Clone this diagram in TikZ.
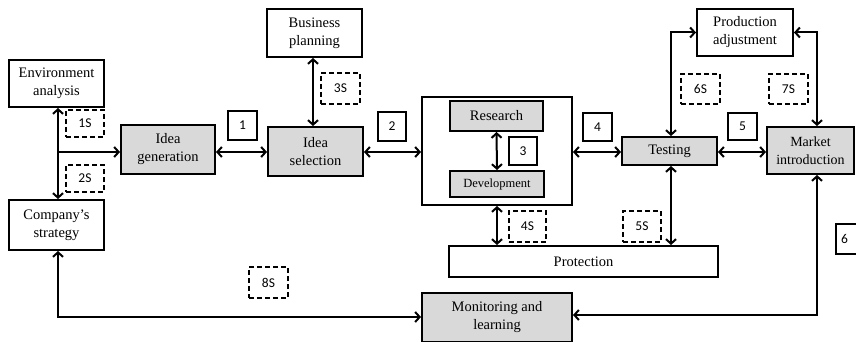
\documentclass[tikz,border=0pt]{standalone}
\usepackage{fontspec}
\setmainfont{Liberation Serif}
\newfontfamily\labfont{Carlito}
\usetikzlibrary{arrows.meta,calc}
\definecolor{boxgray}{HTML}{D9D9D9}
\tikzset{
  blk/.style={draw=black, line width=2pt, inner sep=1pt, align=center,
    font=\fontsize{14.5}{18}\selectfont},
  grayblk/.style={blk, fill=boxgray},
  numbox/.style={draw=black, line width=2pt, inner sep=0pt, font=\labfont\fontsize{13.5}{15}\selectfont},
  dashbox/.style={draw=black, line width=2.2pt, dash pattern=on 5pt off 3pt, inner sep=0pt,
    font=\labfont\fontsize{13.5}{15}\selectfont},
  conn/.style={line width=2pt, {Straight Barb[length=4.5pt,width=10pt]}-{Straight Barb[length=4.5pt,width=10pt]}},
  conn1/.style={line width=2pt, -{Straight Barb[length=4.5pt,width=10pt]}}
}
\begin{document}
\begin{tikzpicture}[x=1pt,y=-1pt]
\useasboundingbox (0,0) rectangle (856,342);
\begin{scope}
\clip (0,0) rectangle (856,342);
% main nodes
\node[blk, minimum width=95pt, minimum height=47pt] (env) at (56.5,83.5) {Environment\\analysis};
\node[blk, minimum width=95pt, minimum height=50pt] (strat) at (56.5,225) {Company’s\\strategy};
\node[grayblk, minimum width=94pt, minimum height=49pt] (gen) at (168,149.5) {Idea\\generation};
\node[grayblk, minimum width=95pt, minimum height=49pt] (sel) at (315.5,151.5) {Idea\\selection};
\node[blk, minimum width=95pt, minimum height=48pt] (bus) at (314.5,33) {Business\\planning};
\node[draw=black, line width=2pt, minimum width=150pt, minimum height=108pt, inner sep=0pt] (big) at (497,151) {};
\node[grayblk, minimum width=93pt, minimum height=30pt] (res) at (496.5,116) {Research};
\node[grayblk, minimum width=94pt, minimum height=26pt, font=\fontsize{12.5}{14}\selectfont] (dev) at (497,184) {Development};
\node[grayblk, minimum width=95pt, minimum height=28pt] (test) at (669.5,151) {Testing};
\node[blk, minimum width=96pt, minimum height=47pt] (prod) at (745,32.5) {Production\\adjustment};
\node[grayblk, minimum width=87pt, minimum height=47pt, font=\fontsize{14}{18}\selectfont] (market) at (810.5,150.5) {Market\\introduction};
\node[blk, minimum width=269pt, minimum height=31pt] (prot) at (583.5,261.5) {Protection};
\node[grayblk, minimum width=150pt, minimum height=49pt] (mon) at (497,317) {Monitoring and\\learning};
% number labels
\node[numbox, minimum width=29pt, minimum height=29pt] (l1) at (242.5,125.5) {1};
\node[numbox, minimum width=28pt, minimum height=29pt] (l2) at (392,126.5) {2};
\node[numbox, minimum width=28pt, minimum height=28pt] (l3) at (523,151) {3};
\node[numbox, minimum width=29pt, minimum height=28pt] (l4) at (597.5,127) {4};
\node[numbox, minimum width=29pt, minimum height=27pt] (l5) at (742.5,126.5) {5};
\node[numbox, minimum width=40pt, minimum height=30pt, text width=40pt, align=left] (l6) at (856,239) {\hspace*{5pt}6};
% dashed labels
\node[dashbox, minimum width=38pt, minimum height=27pt] (s1) at (85,123.5) {1S};
\node[dashbox, minimum width=38pt, minimum height=27pt] (s2) at (85,178.5) {2S};
\node[dashbox, minimum width=39pt, minimum height=31pt] (s3) at (340.5,88.5) {3S};
\node[dashbox, minimum width=37pt, minimum height=31pt] (s4) at (527.5,226.5) {4S};
\node[dashbox, minimum width=38pt, minimum height=31pt] (s5) at (642,226.5) {5S};
\node[dashbox, minimum width=39pt, minimum height=30pt] (s6) at (700.5,89) {6S};
\node[dashbox, minimum width=39pt, minimum height=30pt] (s7) at (788.5,89) {7S};
\node[dashbox, minimum width=39pt, minimum height=31pt] (s8) at (268.5,282.5) {8S};
% helper coordinates
\coordinate (j) at (58,152);
\coordinate (tx) at (671,0);
\coordinate (mx) at (817,0);
\coordinate (bl) at (58,317);
\coordinate (br) at (817,315);
% connectors
\draw[conn1] (j) -- (j |- env.south);
\draw[conn1] (j) -- (j |- strat.north);
\draw[conn1] (j) -- (gen.west |- j);
\draw[conn] (gen.east |- j) -- (sel.west |- j);
\draw[conn] (bus.south -| 313,0) -- (sel.north -| 313,0);
\draw[conn] (sel.east |- j) -- (big.west |- j);
\draw[conn] (res.south) -- (dev.north);
\draw[conn] (big.east |- j) -- (test.west |- j);
\draw[conn] (test.east |- j) -- (market.west |- j);
\draw[conn] (test.north -| tx) |- (prod.west);
\draw[conn] (prod.east) -| (market.north -| mx);
\draw[conn] (big.south) -- (prot.north -| big.south);
\draw[conn] (test.south -| tx) -- (prot.north -| tx);
\draw[conn] (strat.south -| bl) |- (mon.west |- bl);
\draw[conn] (mon.east |- br) -| (market.south -| br);
\end{scope}
\end{tikzpicture}
\end{document}
